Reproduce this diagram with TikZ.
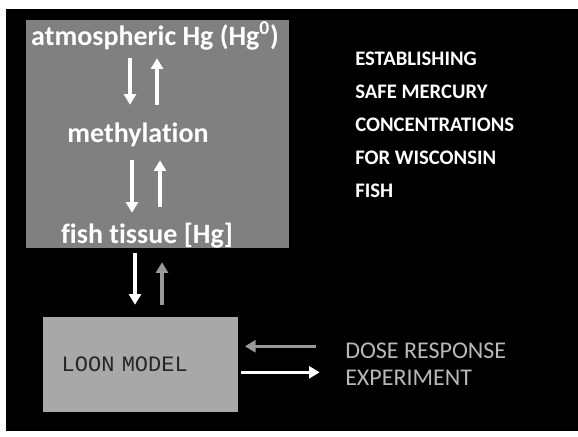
\documentclass[tikz,border=0pt]{standalone}
\usepackage{fontspec}
\setmainfont{Carlito}[Ligatures=NoCommon]
\newfontfamily\loonfont{Liberation Mono}
\usetikzlibrary{arrows.meta, calc}

\definecolor{boxgray}{gray}{0.5}
\definecolor{loongray}{gray}{0.66}
\definecolor{dimgray}{gray}{0.6}
\definecolor{dosegray}{gray}{0.72}

\tikzset{
  hglabel/.style={text=white, font=\fontsize{21}{25}\selectfont\bfseries, inner sep=0pt,
    text height=15pt, text depth=4.5pt, anchor=base},
  titleline/.style={text=white, font=\fontsize{15.5}{18}\selectfont\bfseries, inner sep=0pt, anchor=base west},
  doseline/.style={text=dosegray, font=\fontsize{18}{21}\selectfont, inner sep=0pt, anchor=base west},
  warr/.style={-{Triangle[length=8pt, width=9pt]}, white, line width=2.3pt},
  garr/.style={-{Triangle[length=8pt, width=9pt]}, dimgray, line width=2.3pt}
}

\begin{document}
\begin{tikzpicture}[x=0.75pt, y=-0.75pt]
  \useasboundingbox (0,0) rectangle (578,436);
  \fill[black] (6,9) rectangle (578,431);

  % mercury cycle box
  \node[fill=boxgray, minimum width=197.25pt, minimum height=171pt, inner sep=0pt] (hgbox) at (157.5,134) {};
  \node[hglabel] (atm) at (155,45) {atmospheric Hg (Hg\textsuperscript{0})};
  \node[hglabel] (meth) at (138,142) {methylation};
  \node[hglabel] (fish) at (147,243) {fish tissue [Hg]};

  \draw[warr] ($(atm.south)+(-25,7)$) -- ($(meth.north)+(-8,-17)$);
  \draw[warr] ($(meth.north)+(19,-17)$) -- ($(atm.south)+(2,7)$);
  \draw[warr] ($(meth.south)+(-6,12)$) -- ($(fish.north)+(-15,-10)$);
  \draw[warr] ($(fish.north)+(13,-16)$) -- ($(meth.south)+(22,12)$);

  % loon model
  \node[fill=loongray, minimum height=71.25pt, text width=118.25pt, inner xsep=14pt, align=left,
    text=black!85, font=\loonfont\fontsize{16.5}{20}\selectfont] (loon) at (140.5,364.5) {LOON MODEL};

  \draw[warr] ($(fish.south)+(-12,4)$) -- ($(loon.north)+(-5.5,-12)$);
  \draw[garr] ($(loon.north)+(21.5,-12)$) -- ($(fish.south)+(15,13)$);

  % title
  \foreach \txt [count=\i] in {ESTABLISHING, SAFE MERCURY, CONCENTRATIONS, FOR WISCONSIN, FISH}
    \node[titleline] (title\i) at (355,65+33.2*\i-33.2) {\txt};

  % dose response
  \node[doseline] (dose) at (345,358) {DOSE RESPONSE};
  \node[doseline] (expt) at (345,385) {EXPERIMENT};

  \draw[garr, shorten <=22pt, shorten >=5pt] ($(dose.west)+(0,-4)$) -- ($(dose.west -| loon.east)+(0,-4)$);
  \draw[warr, shorten <=2pt, shorten >=19pt] ($(expt.west -| loon.east)+(0,-5)$) -- ($(expt.west)+(0,-5)$);
\end{tikzpicture}
\end{document}
